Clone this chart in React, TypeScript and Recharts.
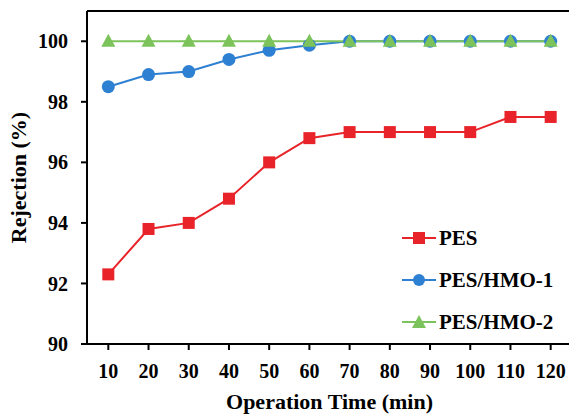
import React from 'react';
import { LineChart, Line, XAxis, YAxis, ReferenceLine } from 'recharts';

const times = [10, 20, 30, 40, 50, 60, 70, 80, 90, 100, 110, 120];
const pes = [92.3, 93.8, 94.0, 94.8, 96.0, 96.8, 97.0, 97.0, 97.0, 97.0, 97.5, 97.5];
const hmo1 = [98.5, 98.9, 99.0, 99.4, 99.7, 99.87, 100, 100, 100, 100, 100, 100];
const hmo2 = [100, 100, 100, 100, 100, 100, 100, 100, 100, 100, 100, 100];
const yTicks = [90, 92, 94, 96, 98, 100];

const data = times.map((t, i) => ({ t, pes: pes[i], hmo1: hmo1[i], hmo2: hmo2[i] }));

const RED = '#E8242A';
const BLUE = '#2E80D2';
const GREEN = '#7DC35B';
const FONT = '"Liberation Serif", "Times New Roman", serif';

const Square = (props: any) => {
  const { cx, cy, key } = props;
  if (cx == null || cy == null) return null;
  return <rect key={key} x={cx - 6} y={cy - 6} width={12} height={12} fill={RED} />;
};
const Circle = (props: any) => {
  const { cx, cy, key } = props;
  if (cx == null || cy == null) return null;
  return <circle key={key} cx={cx} cy={cy} r={6.5} fill={BLUE} />;
};
const Tri = (props: any) => {
  const { cx, cy, key } = props;
  if (cx == null || cy == null) return null;
  return <polygon key={key} points={`${cx},${cy - 7.5} ${cx + 7},${cy + 5.5} ${cx - 7},${cy + 5.5}`} fill={GREEN} />;
};

const legendItems = [
  { name: 'PES', color: RED, shape: 'square' },
  { name: 'PES/HMO-1', color: BLUE, shape: 'circle' },
  { name: 'PES/HMO-2', color: GREEN, shape: 'tri' },
];

const LegendBox = () => (
  <div style={{ position: 'absolute', left: 402, top: 217, fontFamily: FONT, fontWeight: 'bold', fontSize: 21, color: '#000', lineHeight: 1 }}>
    {legendItems.map((it) => (
      <div key={it.name} style={{ display: 'flex', alignItems: 'center', height: 42 }}>
        <svg width={36} height={16} style={{ marginRight: 1 }}>
          <line x1={0} y1={8} x2={34} y2={8} stroke={it.color} strokeWidth={2} />
          {it.shape === 'square' && <rect x={11} y={2} width={12} height={12} fill={it.color} />}
          {it.shape === 'circle' && <circle cx={17} cy={8} r={6} fill={it.color} />}
          {it.shape === 'tri' && <polygon points="17,1 24,14 10,14" fill={it.color} />}
        </svg>
        <span>{it.name}</span>
      </div>
    ))}
  </div>
);

const tickStyle = { fontFamily: FONT, fontWeight: 'bold' as const, fontSize: 20, fill: '#000' };

export default function App() {
  return (
    <div style={{ position: 'absolute', left: 0, top: 0, width: 569, height: 415, overflow: 'hidden', background: '#fff' }}>
      <LineChart width={575} height={415} data={data} margin={{ top: 11, right: 3, bottom: 0, left: 0 }}>
        <XAxis
          dataKey="t"
          type="number"
          domain={[4.7, 125.3]}
          ticks={times}
          interval={0}
          allowDataOverflow
          axisLine={{ stroke: '#000', strokeWidth: 2 }}
          tickLine={{ stroke: '#000', strokeWidth: 2 }}
          tickSize={6}
          tickMargin={14}
          tick={tickStyle}
          height={71}
          label={{ value: 'Operation Time (min)', position: 'insideBottom', offset: 6, style: { fontFamily: FONT, fontWeight: 'bold', fontSize: 22, fill: '#000' } }}
        />
        <YAxis
          type="number"
          domain={[90, 101]}
          ticks={yTicks}
          allowDataOverflow
          width={87}
          axisLine={{ stroke: '#000', strokeWidth: 2 }}
          tickLine={{ stroke: '#000', strokeWidth: 2 }}
          tickSize={6}
          tickMargin={13}
          tick={tickStyle}
          label={{
            content: (p: any) => {
              const vb = p.viewBox || {};
              const x = 18;
              const y = (vb.y ?? 0) + (vb.height ?? 0) / 2;
              return (
                <text
                  x={x}
                  y={y}
                  transform={`rotate(-90, ${x}, ${y})`}
                  textAnchor="middle"
                  dominantBaseline="central"
                  style={{ fontFamily: FONT, fontWeight: 'bold', fontSize: 22, fill: '#000' }}
                >
                  Rejection (%)
                </text>
              );
            },
          }}
        />
        <ReferenceLine y={101} stroke="#000" strokeWidth={2} ifOverflow="extendDomain" />
        <Line type="linear" dataKey="pes" stroke={RED} strokeWidth={2} dot={Square} activeDot={false} isAnimationActive={false} />
        <Line type="linear" dataKey="hmo1" stroke={BLUE} strokeWidth={2} dot={Circle} activeDot={false} isAnimationActive={false} />
        <Line type="linear" dataKey="hmo2" stroke={GREEN} strokeWidth={2} dot={Tri} activeDot={false} isAnimationActive={false} />
      </LineChart>
      <LegendBox />
    </div>
  );
}
